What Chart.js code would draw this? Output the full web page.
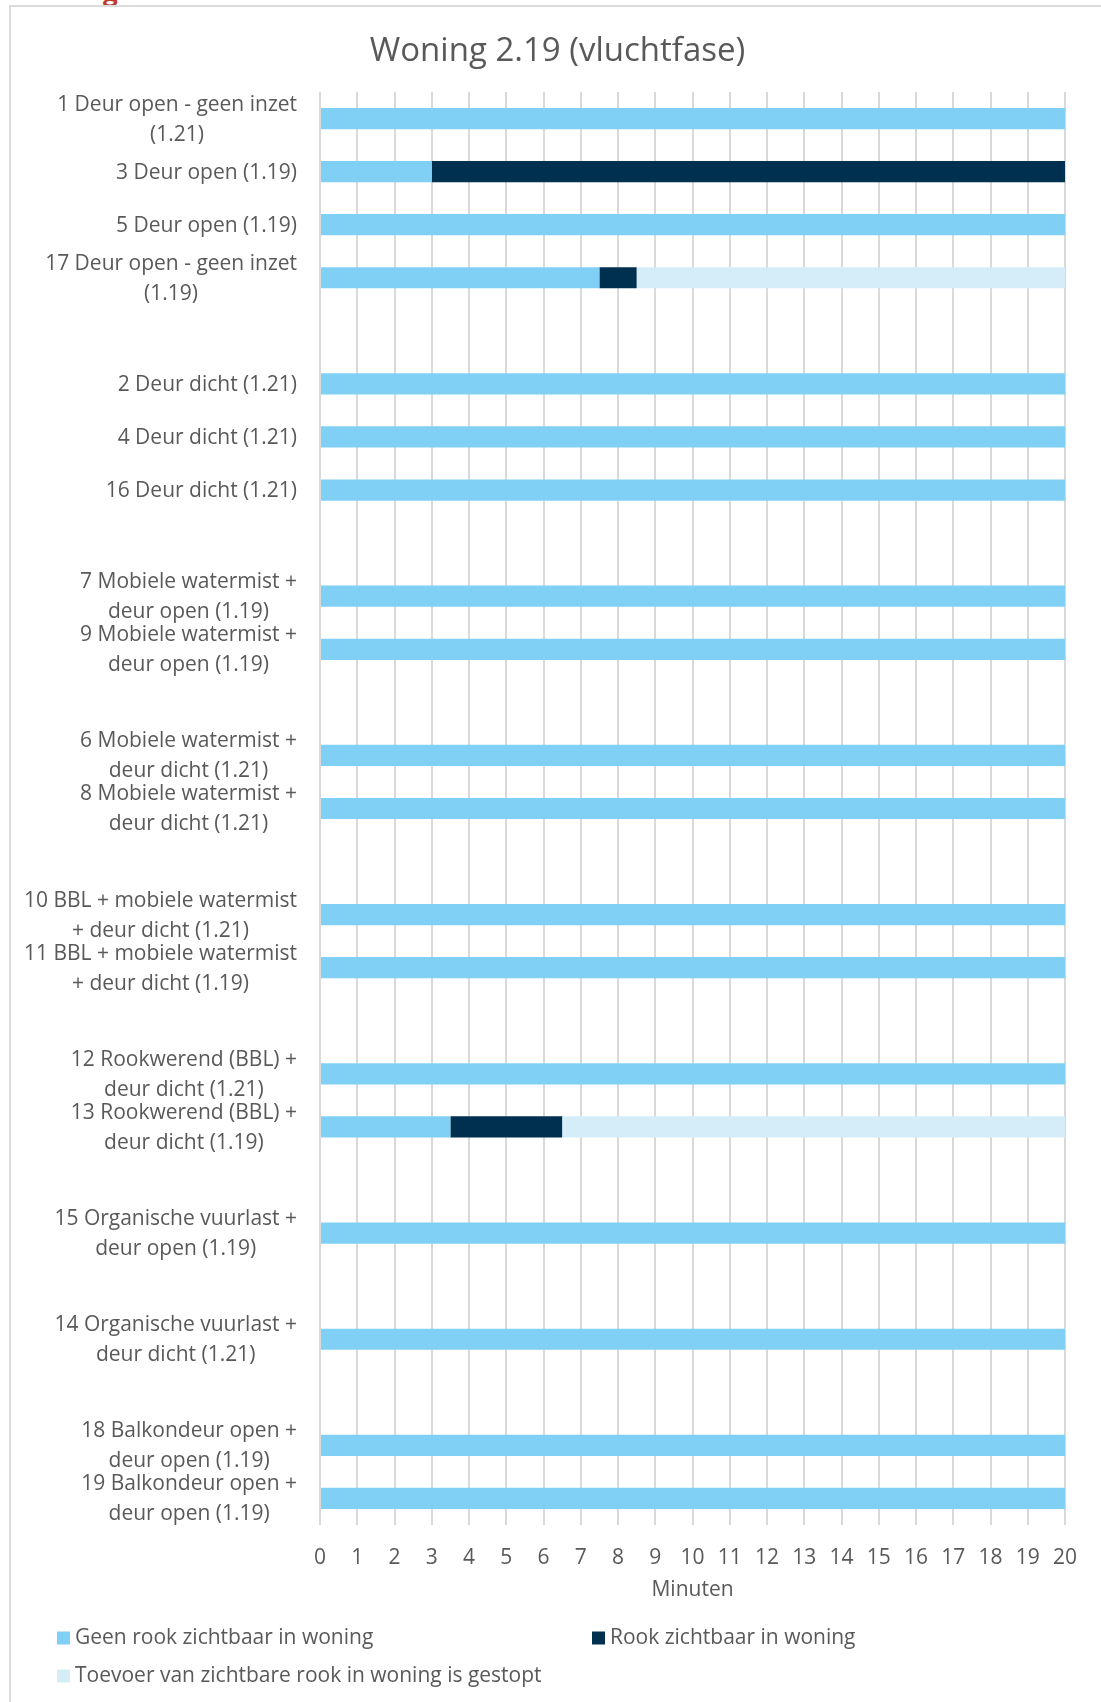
<!DOCTYPE html>
<html>
<head>
<meta charset="utf-8">
<script src="https://cdn.jsdelivr.net/npm/chart.js@4.4.1/dist/chart.umd.min.js"></script>
<style>
  html, body { margin: 0; padding: 0; background: #fff; overflow: hidden; }
  body { width: 1101px; height: 1702px; position: relative; }
  #frame {
    position: absolute; left: 9px; top: 5px; width: 1100px; height: 1710px;
    border-top: 2px solid #dcdcdc; border-left: 2px solid #dcdcdc;
  }
  #wrap { position: absolute; left: 10px; top: 6px; width: 1095px; height: 1696px; }
  #cut { position: absolute; left: 103px; top: -27px; font: bold 26px "Open Sans"; color: #c0392b; }
</style>
</head>
<body>
<div id="cut">g</div>
<div id="frame"></div>
<div id="wrap"><canvas id="ganttChart"></canvas></div>
<script>
// categories (empty strings are the spacer rows of the original)
const categories = [
    ['1 Deur open - geen inzet', '(1.21)'],
    '3 Deur open (1.19)',
    '5 Deur open (1.19)',
    ['17 Deur open - geen inzet', '(1.19)'],
    '',
    '2 Deur dicht (1.21)',
    '4 Deur dicht (1.21)',
    '16 Deur dicht (1.21)',
    '',
    ['7 Mobiele watermist +', 'deur open (1.19)'],
    ['9 Mobiele watermist +', 'deur open (1.19)'],
    '',
    ['6 Mobiele watermist +', 'deur dicht (1.21)'],
    ['8 Mobiele watermist +', 'deur dicht (1.21)'],
    '',
    ['10 BBL + mobiele watermist', '+ deur dicht (1.21)'],
    ['11 BBL + mobiele watermist', '+ deur dicht (1.19)'],
    '',
    ['12 Rookwerend (BBL) +', 'deur dicht (1.21)'],
    ['13 Rookwerend (BBL) +', 'deur dicht (1.19)'],
    '',
    ['15 Organische vuurlast +', 'deur open (1.19)'],
    '',
    ['14 Organische vuurlast +', 'deur dicht (1.21)'],
    '',
    ['18 Balkondeur open +', 'deur open (1.19)'],
    ['19 Balkondeur open +', 'deur open (1.19)']
];

// minutes per phase
const geenRook = [20, 3, 20, 7.5, null, 20, 20, 20, null, 20, 20, null, 20, 20, null, 20, 20, null, 20, 3.5, null, 20, null, 20, null, 20, 20];
const rook     = [null, 17, null, 1, null, null, null, null, null, null, null, null, null, null, null, null, null, null, null, 3, null, null, null, null, null, null, null];
const gestopt  = [null, null, null, 11.5, null, null, null, null, null, null, null, null, null, null, null, null, null, null, null, 13.5, null, null, null, null, null, null, null];

const seriesNames = [
    'Geen rook zichtbaar in woning',
    'Rook zichtbaar in woning',
    'Toevoer van zichtbare rook in woning is gestopt'
];
const xMin = 0, xMax = 20;

const FONT = '"Open Sans"';
const TEXT = '#595959';

// category labels: block right aligned, lines centred inside the block
const yLabels = {
    id: 'yLabels',
    afterDraw(chart) {
        const ctx = chart.ctx;
        const y = chart.scales.y;
        ctx.save();
        ctx.font = '21px ' + FONT;
        ctx.fillStyle = TEXT;
        ctx.textAlign = 'center';
        ctx.textBaseline = 'middle';
        categories.forEach((lab, i) => {
            const lines = Array.isArray(lab) ? lab : [lab];
            const w = Math.max(...lines.map(l => ctx.measureText(l).width));
            const cx = y.right - 23 - w / 2;
            const cy = y.getPixelForValue(i) + 1;
            lines.forEach((l, k) => {
                ctx.fillText(l, cx, cy + (k - (lines.length - 1) / 2) * 30);
            });
        });
        ctx.restore();
    }
};

// legend in two columns like the original
const legendGrid = {
    id: 'legendGrid',
    afterDraw(chart) {
        const ctx = chart.ctx;
        const spots = [[47, 1632], [582, 1632], [47, 1670]];
        ctx.save();
        ctx.font = '21px ' + FONT;
        ctx.textAlign = 'left';
        ctx.textBaseline = 'middle';
        chart.data.datasets.forEach((ds, i) => {
            const [x, y] = spots[i];
            ctx.fillStyle = ds.backgroundColor;
            ctx.fillRect(x, y - 6.5, 13, 13);
            ctx.fillStyle = TEXT;
            ctx.fillText(ds.label, x + 18, y);
        });
        ctx.restore();
    }
};

document.fonts.load('21px ' + FONT).then(() => {
    new Chart(document.getElementById('ganttChart'), {
        type: 'bar',
        data: {
            labels: categories,
            datasets: [
                { label: seriesNames[0], data: geenRook, backgroundColor: '#7fd0f4' },
                { label: seriesNames[1], data: rook, backgroundColor: '#00304f' },
                { label: seriesNames[2], data: gestopt, backgroundColor: '#d5ecf9' }
            ]
        },
        options: {
            indexAxis: 'y',
            responsive: true,
            maintainAspectRatio: false,
            animation: false,
            datasets: { bar: { barPercentage: 0.4, categoryPercentage: 1 } },
            layout: { padding: { left: 40, right: 40, top: 0, bottom: 87 } },
            plugins: {
                legend: { display: false },
                tooltip: { enabled: false },
                title: {
                    display: true,
                    text: 'Woning 2.19 (vluchtfase)',
                    color: TEXT,
                    font: { family: FONT, size: 33, weight: 'normal', lineHeight: 1.2 },
                    padding: { top: 26, bottom: 20.4 }
                }
            },
            scales: {
                x: {
                    stacked: true,
                    min: xMin,
                    max: xMax,
                    ticks: {
                        stepSize: 1,
                        autoSkip: false,
                        maxRotation: 0,
                        color: TEXT,
                        padding: 20,
                        font: { family: FONT, size: 21 }
                    },
                    grid: { color: '#d9d9d9', lineWidth: 2, drawTicks: false },
                    border: { display: false },
                    title: {
                        display: true,
                        text: 'Minuten',
                        color: TEXT,
                        font: { family: FONT, size: 21 },
                        padding: { top: 0, bottom: 12 }
                    },
                    afterFit(scale) { scale.height = 90; }
                },
                y: {
                    stacked: true,
                    ticks: { display: false },
                    grid: { display: false },
                    border: { display: false },
                    afterFit(scale) { scale.width = 270; }
                }
            }
        },
        plugins: [yLabels, legendGrid]
    });
});
</script>
</body>
</html>
